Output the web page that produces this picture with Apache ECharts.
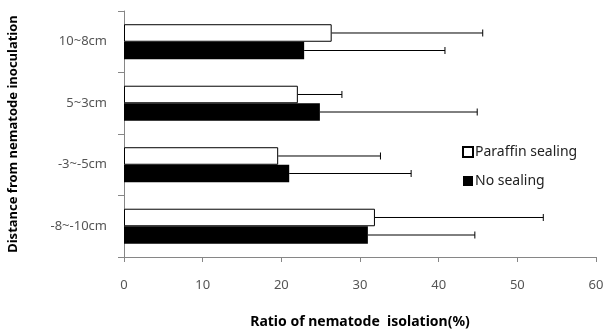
<!DOCTYPE html>
<html>
<head>
<meta charset="utf-8">
<script src="https://cdn.jsdelivr.net/npm/echarts@6/dist/echarts.min.js"></script>
<style>
  html, body { margin: 0; padding: 0; background: #fff; }
  #chart { width: 606px; height: 331px; }
</style>
</head>
<body>
<div id="chart"></div>
<script>
// distance groups, top to bottom
var categories = ['10~8cm', '5~3cm', '-3~-5cm', '-8~-10cm'];
var paraffin = [26.4, 22.1, 19.6, 31.9];
var paraffinSd = [19.2, 5.6, 13.0, 21.4];
var noSealing = [22.9, 24.9, 21.0, 31.0];
var noSealingSd = [17.9, 20.0, 15.5, 13.6];
var xTicks = [0, 10, 20, 30, 40, 50, 60];

var catGap = 0.43;

function errData(vals, sds) {
  return vals.map(function (v, i) { return [v, v + sds[i], i]; });
}

function errRender(side) {
  return function (params, api) {
    var i = api.value(2);
    var start = api.coord([api.value(0), i]);
    var end = api.coord([api.value(1), i]);
    var band = api.size([0, 1])[1];
    var barW = band * (1 - catGap) / 2;
    var y = start[1] + side * barW / 2;
    var style = { stroke: '#000', lineWidth: 1 };
    return {
      type: 'group',
      children: [
        { type: 'line', shape: { x1: start[0], y1: y, x2: end[0], y2: y }, style: style },
        { type: 'line', shape: { x1: end[0], y1: y - 3.5, x2: end[0], y2: y + 3.5 }, style: style }
      ]
    };
  };
}

var myChart = echarts.init(document.getElementById('chart'));
myChart.setOption({
  animation: false,
  textStyle: { fontFamily: 'Noto Sans' },
  grid: { left: 124, right: 10, top: 11, bottom: 74, outerBoundsMode: 'none' },
  legend: {
    orient: 'vertical',
    left: 457,
    top: 140,
    itemWidth: 10,
    itemHeight: 10,
    itemGap: 15,
    textStyle: { color: '#222', fontSize: 14, padding: [0, 0, 0, -3] },
    data: [
      { name: 'Paraffin sealing', icon: 'rect' },
      { name: 'No sealing', icon: 'rect' }
    ]
  },
  xAxis: {
    type: 'value',
    min: xTicks[0],
    max: xTicks[xTicks.length - 1],
    interval: 10,
    name: 'Ratio of nematode  isolation(%)',
    nameLocation: 'middle',
    nameGap: 58,
    nameTextStyle: { color: '#000', fontWeight: 'bold', fontSize: 14 },
    axisLine: { show: true, lineStyle: { color: '#868686' } },
    axisTick: { show: true, length: 5, lineStyle: { color: '#868686' } },
    axisLabel: { color: '#555', fontSize: 13, margin: 22 },
    splitLine: { show: false }
  },
  yAxis: {
    type: 'category',
    inverse: true,
    data: categories,
    name: 'Distance from nematode inoculation',
    nameLocation: 'middle',
    nameGap: 104,
    nameTextStyle: { color: '#000', fontWeight: 'bold', fontSize: 13 },
    axisLine: { show: true, lineStyle: { color: '#868686' } },
    axisTick: { show: true, length: 6, lineStyle: { color: '#868686' } },
    axisLabel: { color: '#555', fontSize: 13, margin: 17 }
  },
  series: [
    {
      name: 'Paraffin sealing',
      type: 'bar',
      data: paraffin,
      barGap: '0%',
      barCategoryGap: (catGap * 100) + '%',
      itemStyle: { color: '#fff', borderColor: '#000', borderWidth: 1 }
    },
    {
      name: 'No sealing',
      type: 'bar',
      data: noSealing,
      barGap: '0%',
      barCategoryGap: (catGap * 100) + '%',
      itemStyle: { color: '#000' }
    },
    {
      type: 'custom',
      renderItem: errRender(-1),
      data: errData(paraffin, paraffinSd),
      encode: { x: [0, 1], y: 2 },
      z: 3
    },
    {
      type: 'custom',
      renderItem: errRender(1),
      data: errData(noSealing, noSealingSd),
      encode: { x: [0, 1], y: 2 },
      z: 3
    }
  ]
});
</script>
</body>
</html>
